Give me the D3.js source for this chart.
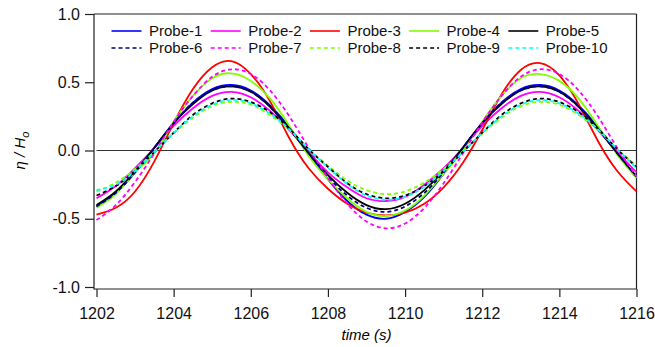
<!DOCTYPE html>
<html>
<head>
<meta charset="utf-8">
<script src="https://cdn.jsdelivr.net/npm/d3@7"></script>
<style>
  body { margin: 0; background: #fff; }
  svg { font-family: "Liberation Sans", Arial, sans-serif; }
  .tick text { font-size: 16px; fill: #111; }
  .tick line { stroke: #222; stroke-width: 1.2; }
</style>
</head>
<body>
<svg id="chart" width="655" height="347"></svg>
<script>
// sample times (s)
const time = d3.range(1202, 1216.01, 0.5);

const probeNames = ['Probe-1', 'Probe-2', 'Probe-3', 'Probe-4', 'Probe-5',
                    'Probe-6', 'Probe-7', 'Probe-8', 'Probe-9', 'Probe-10'];

// eta / H_o, one value per 0.5 s
const probe1  = [-0.41, -0.31, -0.16, 0.02, 0.20, 0.35, 0.45, 0.48, 0.44, 0.33, 0.17, -0.02, -0.21, -0.37, -0.47, -0.50, -0.45, -0.34, -0.17, 0.02, 0.20, 0.35, 0.45, 0.48, 0.44, 0.33, 0.17, -0.02, -0.20];
const probe2  = [-0.35, -0.26, -0.13, 0.02, 0.18, 0.31, 0.40, 0.43, 0.39, 0.29, 0.15, -0.01, -0.16, -0.27, -0.35, -0.37, -0.34, -0.25, -0.13, 0.02, 0.18, 0.31, 0.40, 0.43, 0.39, 0.29, 0.15, -0.01, -0.16];
const probe3  = [-0.47, -0.42, -0.30, -0.08, 0.20, 0.45, 0.61, 0.655, 0.56, 0.36, 0.09, -0.13, -0.28, -0.39, -0.455, -0.475, -0.455, -0.39, -0.27, -0.09, 0.15, 0.41, 0.59, 0.64, 0.55, 0.34, 0.07, -0.15, -0.30];
const probe4  = [-0.42, -0.32, -0.16, -0.02, 0.21, 0.40, 0.53, 0.565, 0.51, 0.38, 0.18, -0.04, -0.21, -0.35, -0.45, -0.48, -0.44, -0.33, -0.17, 0.00, 0.21, 0.40, 0.53, 0.56, 0.51, 0.38, 0.18, -0.03, -0.20];
const probe5  = [-0.40, -0.30, -0.15, 0.02, 0.20, 0.34, 0.44, 0.47, 0.43, 0.32, 0.16, -0.02, -0.18, -0.31, -0.40, -0.43, -0.39, -0.29, -0.15, 0.02, 0.20, 0.34, 0.44, 0.47, 0.43, 0.32, 0.16, -0.02, -0.19];
const probe6  = [-0.41, -0.31, -0.16, 0.02, 0.20, 0.35, 0.44, 0.47, 0.43, 0.32, 0.16, -0.02, -0.19, -0.33, -0.42, -0.45, -0.41, -0.31, -0.16, 0.02, 0.20, 0.35, 0.44, 0.47, 0.43, 0.32, 0.16, -0.02, -0.19];
const probe7  = [-0.51, -0.40, -0.23, -0.02, 0.21, 0.40, 0.54, 0.595, 0.56, 0.44, 0.25, 0.02, -0.20, -0.39, -0.52, -0.57, -0.535, -0.42, -0.24, -0.02, 0.205, 0.40, 0.54, 0.595, 0.56, 0.44, 0.25, 0.02, -0.19];
const probe8  = [-0.30, -0.235, -0.135, -0.01, 0.125, 0.24, 0.325, 0.357, 0.335, 0.26, 0.15, 0.01, -0.11, -0.22, -0.29, -0.32, -0.30, -0.235, -0.135, -0.01, 0.125, 0.24, 0.325, 0.357, 0.335, 0.26, 0.15, 0.01, -0.11];
const probe9  = [-0.33, -0.26, -0.15, -0.01, 0.13, 0.26, 0.345, 0.38, 0.355, 0.28, 0.16, 0.01, -0.12, -0.24, -0.32, -0.35, -0.33, -0.26, -0.15, -0.01, 0.13, 0.26, 0.345, 0.38, 0.355, 0.28, 0.16, 0.01, -0.12];
const probe10 = [-0.29, -0.25, -0.15, -0.01, 0.13, 0.25, 0.335, 0.37, 0.345, 0.27, 0.155, 0.01, -0.125, -0.245, -0.33, -0.36, -0.34, -0.265, -0.15, -0.01, 0.13, 0.25, 0.335, 0.37, 0.345, 0.27, 0.155, 0.01, -0.13];

const xTicks = [1202, 1204, 1206, 1208, 1210, 1212, 1214, 1216];
const yTicks = [-1.0, -0.5, 0.0, 0.5, 1.0];

const series = [probe1, probe2, probe3, probe4, probe5, probe6, probe7, probe8, probe9, probe10];
const colours = ['#0000ff', '#ff00ff', '#ff0000', '#7fff00', '#000000',
                 '#000080', '#ff00ff', '#7fff00', '#000000', '#00ffff'];
const dashed  = [false, false, false, false, false, true, true, true, true, true];

const svg = d3.select('#chart');

const x = d3.scaleLinear().domain([1202, 1216]).range([96.5, 636.5]);
const y = d3.scaleLinear().domain([-1, 1]).range([287, 14]);

// frame (left / bottom axes sit a little off the plot)
const frameG = svg.append('g').attr('stroke', '#222').attr('stroke-width', 1.2);
frameG.append('line').attr('x1', 94).attr('x2', 94).attr('y1', y(1)).attr('y2', 289.5);
frameG.append('line').attr('x1', 94).attr('x2', x(1216)).attr('y1', 289).attr('y2', 289);
frameG.append('line').attr('x1', 94).attr('x2', x(1216)).attr('y1', y(1)).attr('y2', y(1));
frameG.append('line').attr('x1', x(1216)).attr('x2', x(1216)).attr('y1', y(1)).attr('y2', 289);

// axes
const xAxis = svg.append('g')
  .attr('transform', 'translate(0,289)')
  .call(d3.axisBottom(x).tickValues(xTicks).tickSize(8).tickPadding(11).tickFormat(d3.format('d')));
xAxis.select('.domain').remove();

const yAxis = svg.append('g')
  .attr('transform', 'translate(94,0)')
  .call(d3.axisLeft(y).tickValues(yTicks).tickSize(9).tickPadding(5).tickFormat(d3.format('.1f')));
yAxis.select('.domain').remove();
yAxis.selectAll('.tick text').text(d => d3.format('.1f')(d).replace('−', '-'));

// zero line
svg.append('line')
  .attr('x1', x(1202)).attr('x2', x(1216))
  .attr('y1', y(0)).attr('y2', y(0))
  .attr('stroke', '#333').attr('stroke-width', 1.2);

// curves
const line = d3.line()
  .x((d, i) => x(time[i]))
  .y(d => y(d))
  .curve(d3.curveNatural);

svg.append('g').selectAll('path')
  .data(series)
  .join('path')
    .attr('d', line)
    .attr('fill', 'none')
    .attr('stroke', (d, i) => colours[i])
    .attr('stroke-width', 1.8)
    .attr('stroke-dasharray', (d, i) => dashed[i] ? '4,3' : null);

// legend, two rows of five
const legend = svg.append('g').selectAll('g')
  .data(probeNames)
  .join('g')
    .attr('transform', (d, i) => `translate(${111.5 + (i % 5) * 99.2},${i < 5 ? 31 : 48})`);
legend.append('line')
  .attr('x1', 0).attr('x2', 30)
  .attr('stroke', (d, i) => colours[i])
  .attr('stroke-width', 1.6)
  .attr('stroke-dasharray', (d, i) => dashed[i] ? '4,3' : null);
legend.append('text')
  .attr('x', 37.5).attr('dy', '0.35em')
  .style('font-size', '15px').attr('fill', '#111')
  .text(d => d);

// axis titles
svg.append('text')
  .attr('x', x(1209)).attr('y', 340)
  .attr('text-anchor', 'middle')
  .style('font-size', '15px').style('font-style', 'italic')
  .text('time (s)');

const yLab = svg.append('text')
  .attr('transform', `translate(25,${y(0)}) rotate(-90)`)
  .attr('text-anchor', 'middle')
  .style('font-size', '15px').style('font-style', 'italic');
yLab.append('tspan').text('η / H');
yLab.append('tspan').attr('dy', 4).style('font-size', '11px').text('o');
</script>
</body>
</html>
